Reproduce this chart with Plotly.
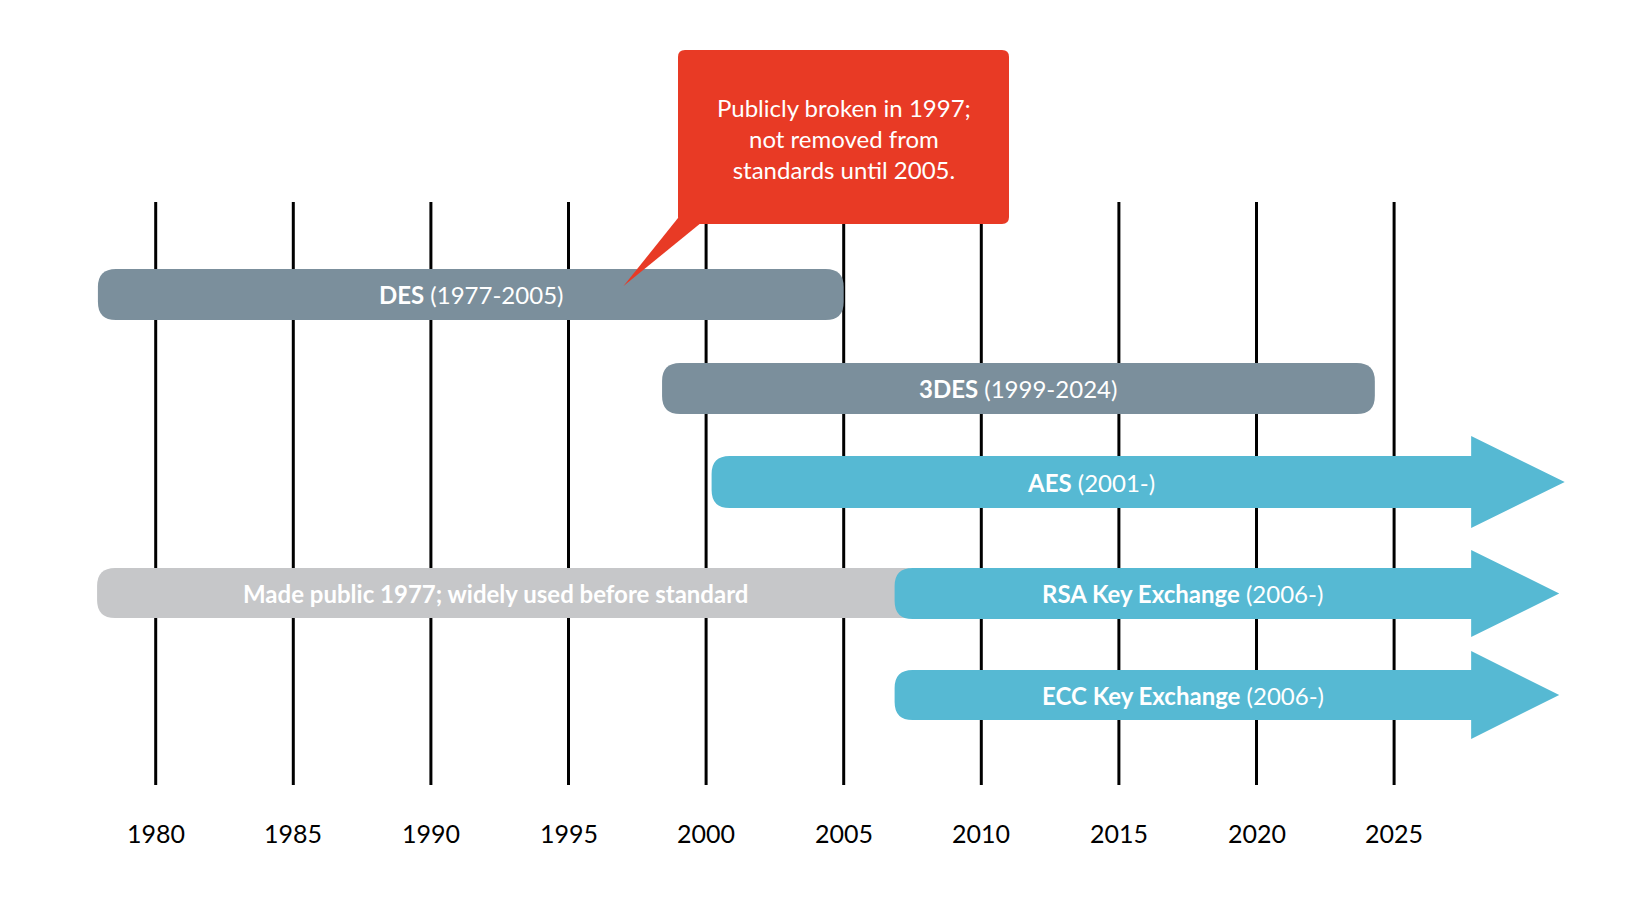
import plotly.graph_objects as go

# timeline data (years)
tick_years = [1980, 1985, 1990, 1995, 2000, 2005, 2010, 2015, 2020, 2025]

bar_names = ['DES', '3DES']
bar_periods = ['(1977-2005)', '(1999-2024)']
bar_starts = [1977.9, 1998.4]
bar_ends = [2005.0, 2024.3]

arrow_names = ['AES', 'RSA Key Exchange', 'ECC Key Exchange']
arrow_periods = ['(2001-)', '(2006-)', '(2006-)']
arrow_starts = [2000.2, 2006.85, 2006.85]
arrow_body_ends = [2027.8, 2027.8, 2027.8]
arrow_tips = [2031.2, 2031.0, 2031.0]

pre_label = 'Made public 1977; widely used before standard'
pre_start = 1977.87
pre_end = 2006.85

callout_text = 'Publicly broken in 1997;<br>not removed from<br>standards until 2005.'
broken_year = 1997

GRAY = '#7b8f9c'
LIGHT = '#c6c7c9'
BLUE = '#56b9d3'
RED = '#e83a25'
FONT = 'Lato'

PX_PER_YEAR = 27.52
X0 = 1980 - 147.7 / PX_PER_YEAR
W, H = 1642, 899


def yr(px):
    return X0 + px / PX_PER_YEAR


def rounded(x0, x1, y0, y1, r_px, right_round=True):
    r = r_px / PX_PER_YEAR
    p = f'M {x0 + r},{y0} '
    if right_round:
        p += f'L {x1 - r},{y0} Q {x1},{y0} {x1},{y0 + r_px} L {x1},{y1 - r_px} Q {x1},{y1} {x1 - r},{y1} '
    else:
        p += f'L {x1},{y0} L {x1},{y1} '
    p += f'L {x0 + r},{y1} Q {x0},{y1} {x0},{y1 - r_px} L {x0},{y0 + r_px} Q {x0},{y0} {x0 + r},{y0} Z'
    return p


fig = go.Figure()
fig.add_trace(go.Scatter(x=[X0], y=[0], mode='markers', marker_opacity=0,
                         hoverinfo='skip', showlegend=False))

shapes = []
annotations = []

for t in tick_years:
    shapes.append(dict(type='line', x0=t, x1=t, y0=194, y1=777,
                       line=dict(color='black', width=3)))
    annotations.append(dict(x=t, y=825, text=str(t), showarrow=False,
                            font=dict(family=FONT, size=25, color='black')))

bar_rows = [(261, 312), (355, 406)]
for name, per, s, e, (y0, y1) in zip(bar_names, bar_periods, bar_starts, bar_ends, bar_rows):
    shapes.append(dict(type='path', path=rounded(s, e, y0, y1, 18),
                       fillcolor=GRAY, line_width=0))
    annotations.append(dict(x=(s + e) / 2, y=(y0 + y1) / 2, text=f'<b>{name}</b> {per}',
                            showarrow=False, font=dict(family=FONT, size=24, color='white')))

# light "pre-standard" bar behind RSA
shapes.append(dict(type='path', path=rounded(pre_start, pre_end + 1, 560, 610, 18),
                   fillcolor=LIGHT, line_width=0))
annotations.append(dict(x=(pre_start + pre_end) / 2, y=585, text=f'<b>{pre_label}</b>',
                        showarrow=False, font=dict(family=FONT, size=24, color='white')))

arrow_rows = [(448, 500, 428, 520), (560, 611, 542, 629), (662, 712, 643, 731)]
for name, per, s, be, tip, (y0, y1, h0, h1) in zip(arrow_names, arrow_periods, arrow_starts,
                                                     arrow_body_ends, arrow_tips, arrow_rows):
    r = 18 / PX_PER_YEAR
    ym = (y0 + y1) / 2
    path = (f'M {s + r},{y0} L {be},{y0} L {be},{h0} L {tip},{ym} L {be},{h1} L {be},{y1} '
            f'L {s + r},{y1} Q {s},{y1} {s},{y1 - 18} L {s},{y0 + 18} Q {s},{y0} {s + r},{y0} Z')
    shapes.append(dict(type='path', path=path, fillcolor=BLUE, line_width=0))
    annotations.append(dict(x=(s + be) / 2, y=ym, text=f'<b>{name}</b> {per}',
                            showarrow=False, font=dict(family=FONT, size=24, color='white')))

# callout box with pointer
bx0, bx1 = yr(670), yr(1001)
shapes.append(dict(type='path', path=rounded(bx0, bx1, 42, 216, 7), fillcolor=RED, line_width=0))
shapes.append(dict(type='path',
                   path=f'M {bx0},210 L {yr(699)},210 L {broken_year},278 Z',
                   fillcolor=RED, line_width=0))
annotations.append(dict(x=(bx0 + bx1) / 2, y=130, text=callout_text, showarrow=False,
                        align='center', font=dict(family=FONT, size=24, color='white')))

fig.update_layout(
    width=W, height=H,
    margin=dict(l=0, r=0, t=0, b=0),
    paper_bgcolor='white', plot_bgcolor='white',
    shapes=shapes, annotations=annotations,
    xaxis=dict(range=[X0, X0 + W / PX_PER_YEAR], visible=False, fixedrange=True),
    yaxis=dict(range=[H, 0], visible=False, fixedrange=True),
    showlegend=False,
)

fig.write_html('out.html')
